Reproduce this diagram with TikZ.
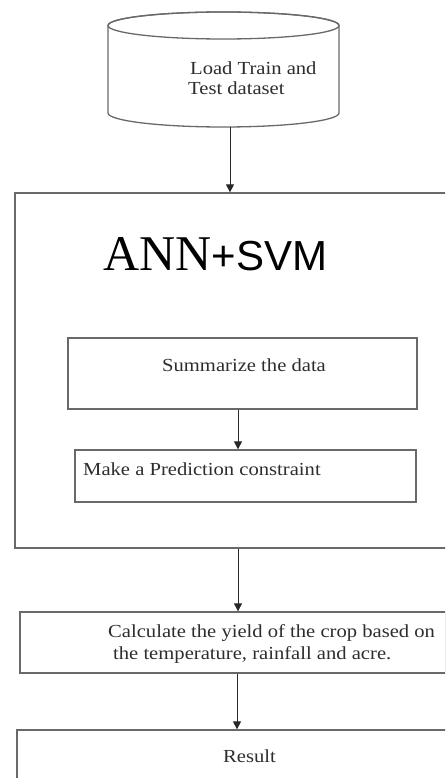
\documentclass[tikz,border=0pt]{standalone}
\usepackage{fontspec}
\setmainfont{Liberation Serif}
\newfontfamily\bodyfont{Liberation Serif}[FakeStretch=1.12]
\newfontfamily\svmfont{Liberation Sans}
\usetikzlibrary{arrows.meta,calc}
\definecolor{ln}{RGB}{105,105,105}
\definecolor{tx}{RGB}{45,45,45}
\definecolor{ar}{RGB}{40,40,40}
\tikzset{
  boxnode/.style={draw=ln, line width=1.3pt, rectangle, inner sep=0pt},
  txt/.style={text=tx, inner sep=0pt, anchor=base west, font=\bodyfont\fontsize{18.4}{21}\selectfont, align=left},
  arr/.style={draw=ar, line width=1pt, -{Triangle[length=8pt,width=8pt]}},
}
\begin{document}
\begin{tikzpicture}[x=1pt,y=-1pt]
\useasboundingbox (0,0) rectangle (445,778);
\clip (0,0) rectangle (445,778);
% cylinder
\node[minimum width=231pt, minimum height=115pt, inner sep=0pt] (cyl) at (223.5,69.5) {};
\draw[ln, line width=1.3pt, fill=white] (108,113) -- (108,25.5) arc[start angle=180, end angle=360, x radius=115.5, y radius=13.5] -- (339,113) arc[start angle=0, end angle=180, x radius=115.5, y radius=14] -- cycle;
\draw[ln, line width=1.3pt] (223.5,25.5) ellipse[x radius=115.5, y radius=13.5];
\node[txt] (cyltext) at (190,95) {Load Train and\\[-1pt]\hspace*{-2pt}Test dataset};
% big box
\node[boxnode, minimum width=440pt, minimum height=355pt] (big) at (235,370.5) {};
\node[inner sep=0pt, anchor=base west, text=black] (title) at (103,270) {\fontsize{50}{50}\selectfont ANN\svmfont\fontsize{42}{42}\selectfont +SVM};
% summarize
\node[boxnode, minimum width=349pt, minimum height=71pt] (sum) at (242.5,373.5) {};
\node[txt] (sumtext) at (162,371) {Summarize the data};
% prediction
\node[boxnode, minimum width=341pt, minimum height=52pt] (pred) at (245.5,476) {};
\node[txt] (predtext) at (83,475) {Make a Prediction constraint};
% calculate
\node[boxnode, minimum width=426pt, minimum height=61pt] (calc) at (233,642.5) {};
\node[txt] (calctext) at (108,659) {Calculate the yield of the crop based on\\[1pt]\hspace*{5pt}the temperature, rainfall and acre.};
% result
\node[boxnode, minimum width=433pt, minimum height=70pt] (res) at (233.5,765) {};
\node[txt] (restext) at (223,762) {Result};
% arrows
\coordinate (a1) at (230,0);
\coordinate (a2) at (238,0);
\coordinate (a4) at (237,0);
\draw[arr] (cyl.south -| a1) -- (big.north -| a1);
\draw[arr] (sum.south -| a2) -- (pred.north -| a2);
\draw[arr] (big.south -| a2) -- (calc.north -| a2);
\draw[arr] (calc.south -| a4) -- (res.north -| a4);
\end{tikzpicture}
\end{document}
